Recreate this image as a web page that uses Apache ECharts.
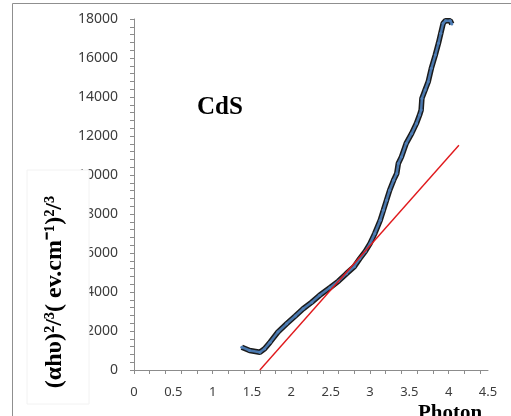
<!DOCTYPE html>
<html>
<head>
<meta charset="utf-8">
<script src="https://cdn.jsdelivr.net/npm/echarts@6/dist/echarts.min.js"></script>
<style>
html,body{margin:0;padding:0;background:#fff;}
#chart{width:511px;height:416px;}
</style>
</head>
<body>
<div id="chart"></div>
<script>
// Photon energy (eV) and (αhυ)^2/3 values
var photonEnergy = [1.37,1.47,1.60,1.66,1.73,1.83,1.94,2.05,2.15,2.26,2.36,2.49,2.60,2.70,2.80,2.87,2.94,3.00,3.06,3.13,3.17,3.21,3.25,3.30,3.34,3.36,3.40,3.46,3.53,3.59,3.63,3.65,3.66,3.70,3.74,3.78,3.83,3.87,3.90,3.93,3.96,4.02,4.04];
var absorption   = [1170,1000,914,1088,1428,1950,2370,2770,3140,3480,3830,4220,4560,4940,5300,5710,6080,6480,6995,7680,8190,8706,9220,9733,10077,10590,10930,11618,12131,12645,13072,13328,13929,14355,14781,15470,16153,16754,17267,17781,17916,17916,17745];
// Linear fit (tangent) line end points
var fitX = [1.60, 4.13];
var fitY = [0, 11530];
// Axis tick / label values
var xLabelValues = [0,0.5,1,1.5,2,2.5,3,3.5,4,4.5];
var xTickValues = [0,0.2,0.4,0.6,0.8,1.0,1.2,1.4,1.6,1.8,2.0,2.2,2.4,2.6,2.8,3.0,3.2,3.4,3.6,3.8,4.0,4.2,4.4];
var yTitle = '(\u03b1h\u03c5)\u00b2/\u00b3( ev.cm\u207b\u00b9)\u00b2/\u00b3';
var sampleLabel = 'CdS';
var xTitle = 'Photon';

var curve = photonEnergy.map(function(x,i){return [x, absorption[i]];});
var fit = fitX.map(function(x,i){return [x, fitY[i]];});

var chart = echarts.init(document.getElementById('chart'), null, {renderer:'canvas'});
chart.setOption({
  animation:false,
  backgroundColor:'#ffffff',
  grid:{left:134, top:19, right:23, bottom:46, containLabel:false},
  xAxis:{
    type:'value', min:0, max:4.5,
    axisLine:{show:true, onZero:false, lineStyle:{color:'#8c8c8c', width:1}},
    axisTick:{show:true, inside:false, length:4, customValues:xTickValues, lineStyle:{color:'#8c8c8c'}},
    axisLabel:{customValues:xLabelValues, margin:16, color:'#3c3c3c', fontFamily:'Noto Sans', fontSize:13},
    splitLine:{show:false}
  },
  yAxis:{
    type:'value', min:0, max:18000, interval:2000,
    axisLine:{show:true, lineStyle:{color:'#8c8c8c', width:1}},
    axisTick:{show:true, inside:false, length:4, lineStyle:{color:'#8c8c8c'}},
    minorTick:{show:true, splitNumber:5, length:4, lineStyle:{color:'#8c8c8c'}},
    axisLabel:{margin:16, color:'#3c3c3c', fontFamily:'Noto Sans', fontSize:14,
      formatter:function(v){return String(v);}},
    splitLine:{show:false}
  },
  series:[
    {type:'line', data:curve, showSymbol:false, smooth:false, z:2,
     lineStyle:{color:'#1c1c1c', width:5.5}},
    {type:'line', data:curve, symbol:'circle', symbolSize:3, showSymbol:true, z:3,
     itemStyle:{color:'#4f7fb8'},
     lineStyle:{color:'#4a78ae', width:2.5}},
    {type:'line', data:fit, showSymbol:false, z:4,
     lineStyle:{color:'#e0191c', width:1.4}}
  ],
  graphic:[
    {type:'rect', z:-1, silent:true, shape:{x:12.5, y:3.5, width:620, height:620},
     style:{fill:'none', stroke:'#8f8f8f', lineWidth:1}},
    {type:'rect', z:100, silent:true, shape:{x:27, y:170, width:62, height:234},
     style:{fill:'#ffffff', stroke:'#f2f2f2', lineWidth:1}},
    {type:'text', z:101, silent:true, x:55, y:292, rotation:Math.PI/2,
     style:{text:yTitle, fill:'#000', font:'bold 24px "Liberation Serif"', align:'center', verticalAlign:'middle'}},
    {type:'text', z:101, silent:true, x:220, y:108,
     style:{text:sampleLabel, fill:'#000', font:'bold 25px "Liberation Serif"', align:'center', verticalAlign:'middle'}},
    {type:'text', z:101, silent:true, x:450, y:414,
     style:{text:xTitle, fill:'#000', font:'bold 21px "Liberation Serif"', align:'center', verticalAlign:'middle'}}
  ]
});
</script>
</body>
</html>
